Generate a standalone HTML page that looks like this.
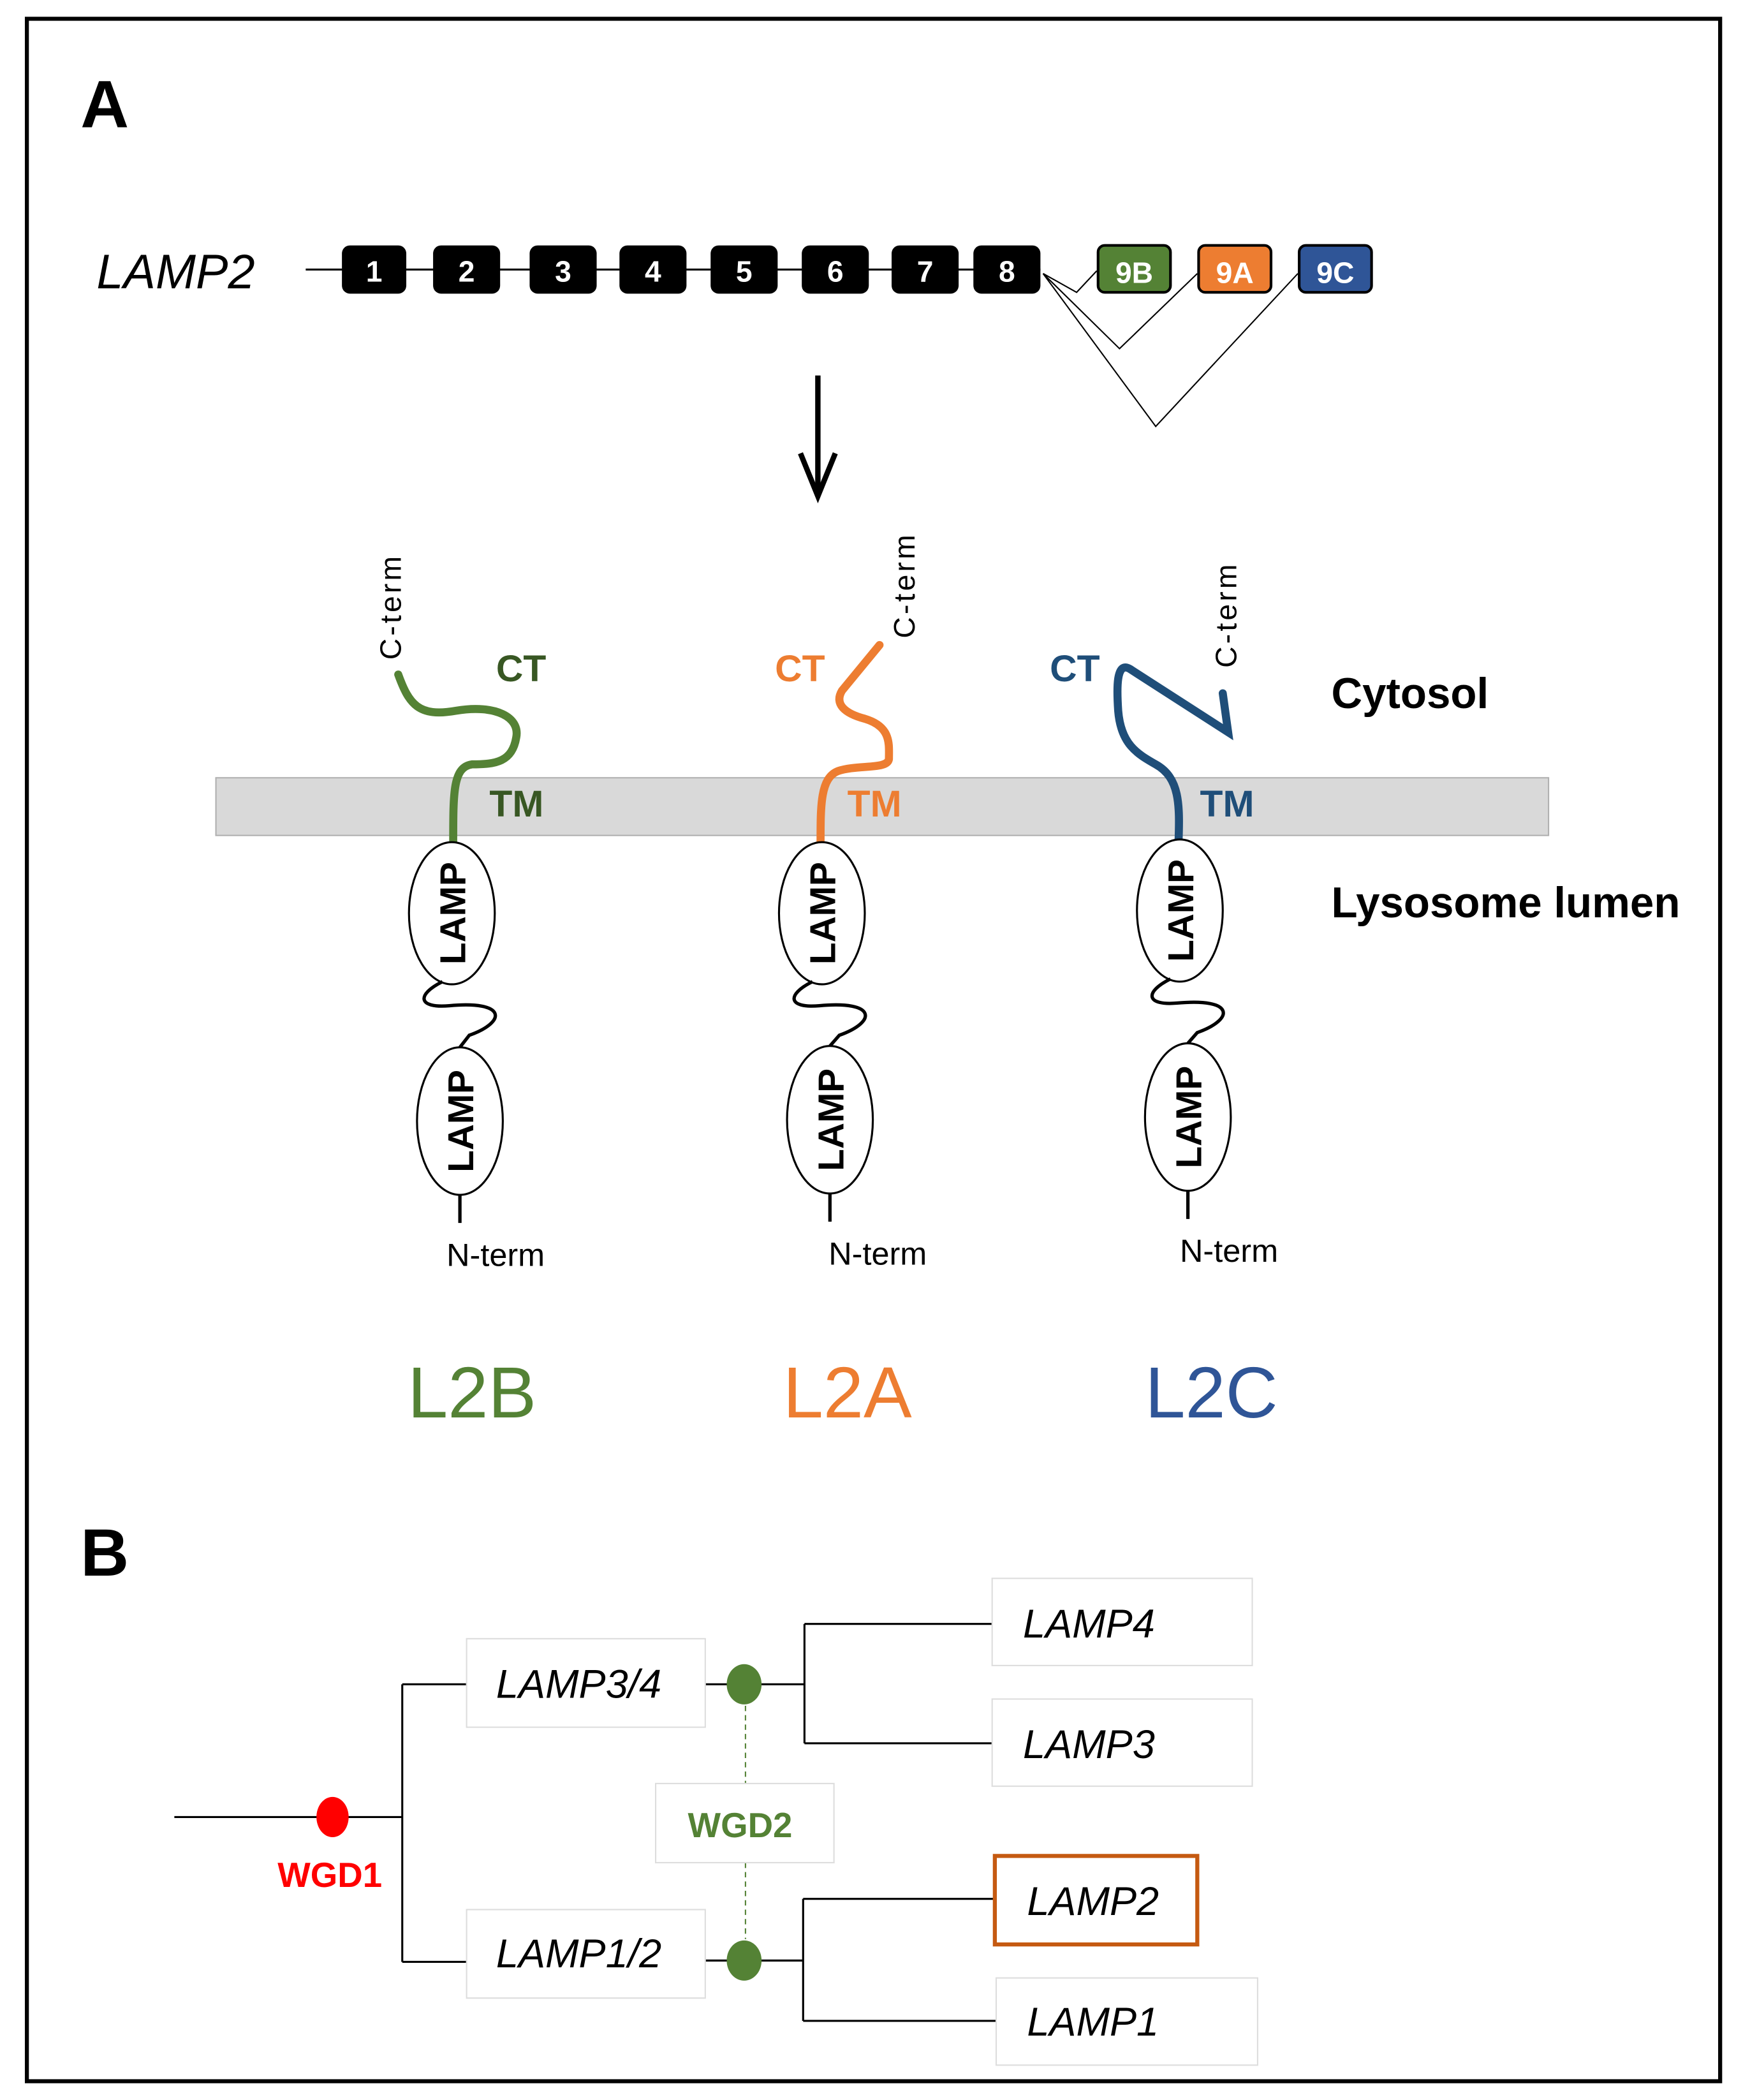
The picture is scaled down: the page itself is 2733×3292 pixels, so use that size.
<!DOCTYPE html>
<html><head><meta charset="utf-8"><style>
html,body{margin:0;padding:0;background:#fff}
svg{display:block}
text{font-family:"Liberation Sans",sans-serif}
</style></head><body>
<svg width="2733" height="3292" viewBox="0 0 1300 1566" xmlns="http://www.w3.org/2000/svg">
<rect x="0" y="0" width="1300" height="1566" fill="#fff"/>
<rect x="20" y="14" width="1263" height="1538" fill="none" stroke="#000" stroke-width="3"/>
<text x="60" y="95" font-size="50" font-weight="bold">A</text>
<text x="72" y="215" font-size="36" font-style="italic">LAMP2</text>
<line x1="228" y1="201" x2="776" y2="201" stroke="#000" stroke-width="1.5"/>
<g fill="#000">
<rect x="255" y="183" width="48" height="36" rx="6"/>
<rect x="323" y="183" width="50" height="36" rx="6"/>
<rect x="395" y="183" width="50" height="36" rx="6"/>
<rect x="462" y="183" width="50" height="36" rx="6"/>
<rect x="530" y="183" width="50" height="36" rx="6"/>
<rect x="598" y="183" width="50" height="36" rx="6"/>
<rect x="665" y="183" width="50" height="36" rx="6"/>
<rect x="726" y="183" width="50" height="36" rx="6"/>
</g>
<g fill="#fff" font-size="22" font-weight="bold" text-anchor="middle">
<text x="279" y="210">1</text><text x="348" y="210">2</text><text x="420" y="210">3</text><text x="487" y="210">4</text>
<text x="555" y="210">5</text><text x="623" y="210">6</text><text x="690" y="210">7</text><text x="751" y="210">8</text>
</g>
<rect x="819" y="183" width="54" height="35" rx="5" fill="#548235" stroke="#000" stroke-width="2"/>
<rect x="894" y="183" width="54" height="35" rx="5" fill="#ED7D31" stroke="#000" stroke-width="2"/>
<rect x="969" y="183" width="54" height="35" rx="5" fill="#2F5597" stroke="#000" stroke-width="2"/>
<g fill="#fff" font-size="22" font-weight="bold" text-anchor="middle">
<text x="846" y="211">9B</text><text x="921" y="211">9A</text><text x="996" y="211">9C</text>
</g>
<g fill="none" stroke="#000" stroke-width="1">
<polyline points="778,204 803,218 818,202"/>
<polyline points="778,204 835,260 893,204"/>
<polyline points="778,204 862,318 968,204"/>
</g>
<line x1="610" y1="280" x2="610" y2="365" stroke="#000" stroke-width="4"/>
<polyline points="597,338 610,370 623,338" fill="none" stroke="#000" stroke-width="4"/>
<rect x="161" y="580" width="994" height="43" fill="#d9d9d9" stroke="#b0b0b0" stroke-width="1"/>
<text x="993" y="528" font-size="32" font-weight="bold">Cytosol</text>
<text x="993" y="684" font-size="32" font-weight="bold">Lysosome lumen</text>
<g fill="none" stroke-width="6" stroke-linecap="round">
<path d="M297,503 C305,525 312,535 340,530 C370,525 388,535 385,550 C382,568 370,570 352,570 C338,572 338,590 338,628" stroke="#548235"/>
<path d="M656,481 L628,515 C622,525 630,532 645,536 C665,542 663,555 663,566 C662,574 640,570 625,575 C612,580 612,600 612,628" stroke="#ED7D31"/>
<path d="M912,517 L916,546 L843,499 C832,492 833,515 834,530 C836,555 848,562 862,570 C880,580 880,600 879,628" stroke="#1F4E79"/>
</g>
<g font-size="22" letter-spacing="2">
<text transform="translate(299,492) rotate(-90)">C-term</text>
<text transform="translate(682,476) rotate(-90)">C-term</text>
<text transform="translate(922,498) rotate(-90)">C-term</text>
</g>
<g font-size="28" font-weight="bold">
<text x="370" y="508" fill="#385723">CT</text>
<text x="578" y="508" fill="#ED7D31">CT</text>
<text x="783" y="508" fill="#1F4E79">CT</text>
<text x="365" y="609" fill="#385723">TM</text>
<text x="632" y="609" fill="#ED7D31">TM</text>
<text x="895" y="609" fill="#1F4E79">TM</text>
</g>
<g fill="#fff" stroke="#000" stroke-width="1.5">
<ellipse cx="337" cy="681" rx="32" ry="53"/><ellipse cx="343" cy="836" rx="32" ry="55"/>
<ellipse cx="613" cy="681" rx="32" ry="53"/><ellipse cx="619" cy="835" rx="32" ry="55"/>
<ellipse cx="880" cy="679" rx="32" ry="53"/><ellipse cx="886" cy="833" rx="32" ry="55"/>
</g>
<g font-size="27" font-weight="bold" text-anchor="middle">
<text transform="translate(347,681) rotate(-90)">LAMP</text>
<text transform="translate(353,836) rotate(-90)">LAMP</text>
<text transform="translate(623,681) rotate(-90)">LAMP</text>
<text transform="translate(629,835) rotate(-90)">LAMP</text>
<text transform="translate(890,679) rotate(-90)">LAMP</text>
<text transform="translate(896,833) rotate(-90)">LAMP</text>
</g>
<g fill="none" stroke="#000" stroke-width="2.5">
<path d="M330,732 C310,742 312,752 335,750 C378,746 378,762 350,772 L343,781"/>
<path d="M343,891 L343,912"/>
<path d="M606,732 C586,742 588,752 611,750 C654,746 654,762 626,772 L619,780"/>
<path d="M619,890 L619,911"/>
<path d="M873,730 C853,740 855,750 878,748 C921,744 921,760 893,770 L886,778"/>
<path d="M886,888 L886,909"/>
</g>
<g font-size="24">
<text x="333" y="944">N-term</text>
<text x="618" y="943">N-term</text>
<text x="880" y="941">N-term</text>
</g>
<g font-size="54">
<text x="304" y="1057" fill="#548235">L2B</text>
<text x="584" y="1057" fill="#ED7D31">L2A</text>
<text x="854" y="1057" fill="#2F5597">L2C</text>
</g>
<text x="60" y="1175" font-size="50" font-weight="bold">B</text>
<g stroke="#000" stroke-width="1.5" fill="none">
<line x1="130" y1="1355" x2="300" y2="1355"/>
<line x1="300" y1="1256" x2="300" y2="1463"/>
<line x1="300" y1="1256" x2="348" y2="1256"/>
<line x1="300" y1="1463" x2="348" y2="1463"/>
<line x1="526" y1="1256" x2="600" y2="1256"/>
<line x1="600" y1="1211" x2="600" y2="1300"/>
<line x1="600" y1="1211" x2="742" y2="1211"/>
<line x1="600" y1="1300" x2="742" y2="1300"/>
<line x1="526" y1="1462" x2="599" y2="1462"/>
<line x1="599" y1="1416" x2="599" y2="1507"/>
<line x1="599" y1="1416" x2="745" y2="1416"/>
<line x1="599" y1="1507" x2="745" y2="1507"/>
</g>
<g stroke="#548235" stroke-width="1" stroke-dasharray="4,3">
<line x1="556" y1="1272" x2="556" y2="1330"/>
<line x1="556" y1="1389" x2="556" y2="1446"/>
</g>
<ellipse cx="248" cy="1355" rx="12" ry="15" fill="#f00"/>
<text x="207" y="1407" font-size="26" font-weight="bold" fill="#f00">WGD1</text>
<g fill="#fff" stroke="#ddd" stroke-width="1">
<rect x="348" y="1222" width="178" height="66"/>
<rect x="348" y="1424" width="178" height="66"/>
<rect x="740" y="1177" width="194" height="65"/>
<rect x="740" y="1267" width="194" height="65"/>
<rect x="489" y="1330" width="133" height="59"/>
<rect x="743" y="1475" width="195" height="65"/>
</g>
<rect x="742" y="1384" width="151" height="66" fill="#fff" stroke="#C55A11" stroke-width="3"/>
<ellipse cx="555" cy="1256" rx="13" ry="15" fill="#548235"/>
<ellipse cx="555" cy="1462" rx="13" ry="15" fill="#548235"/>
<text x="513" y="1370" font-size="26" font-weight="bold" fill="#548235">WGD2</text>
<g font-size="30" font-style="italic">
<text x="370" y="1266">LAMP3/4</text>
<text x="370" y="1467">LAMP1/2</text>
<text x="763" y="1221">LAMP4</text>
<text x="763" y="1311">LAMP3</text>
<text x="766" y="1428">LAMP2</text>
<text x="766" y="1518">LAMP1</text>
</g>
</svg>
</body></html>
